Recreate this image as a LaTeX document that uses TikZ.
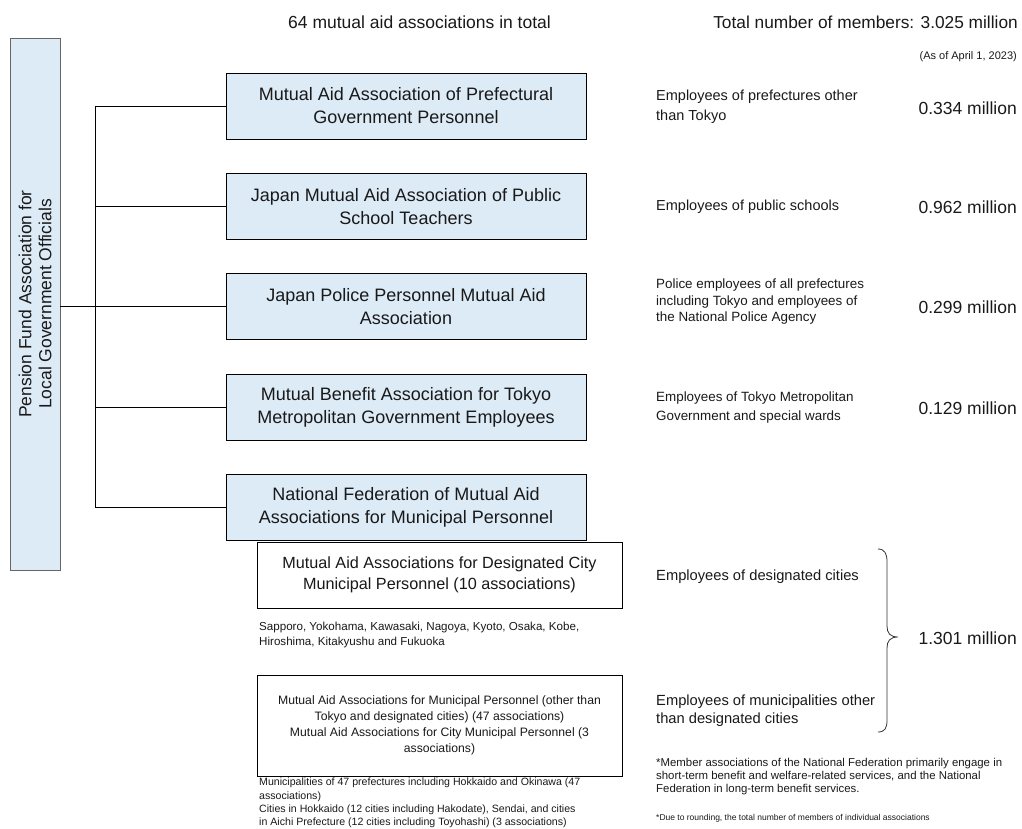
\documentclass[tikz,border=0pt]{standalone}
\usepackage{fontspec}
\setmainfont{Liberation Sans}
\definecolor{boxblue}{RGB}{221,235,247}
\definecolor{txt}{RGB}{25,25,25}
\begin{document}
\begin{tikzpicture}[x=1pt,y=-1pt,
  every node/.style={text=txt},
  bluebox/.style={draw=black, fill=boxblue, line width=0.9pt, inner sep=0pt, align=center,
    minimum width=360pt, minimum height=66pt, font=\fontsize{18}{23}\selectfont},
  whitebox/.style={draw=black, fill=white, line width=0.9pt, inner sep=0pt, align=center,
    minimum width=365pt},
  desc/.style={anchor=west, inner sep=0pt, align=left},
  num/.style={anchor=east, inner sep=0pt, font=\fontsize{17.5}{21}\selectfont},
  conn/.style={draw=black, line width=0.9pt}]
\useasboundingbox (0,0) rectangle (1022,829);

% header
\node[anchor=west, inner sep=0pt, font=\fontsize{17.5}{21}\selectfont] (h1) at (288,22) {64 mutual aid associations in total};
\node[anchor=east, inner sep=0pt, font=\fontsize{17.3}{21}\selectfont] (h2) at (1018,22) {Total number of members: 3.025 million};
\node[anchor=east, inner sep=0pt, font=\fontsize{11}{13}\selectfont] (h3) at (1017,57) {(As of April 1, 2023)};

% left box
\node[draw=black!60, fill=boxblue, line width=0.9pt, minimum width=50pt, minimum height=532pt, inner sep=0pt] (lbox) at (35,304) {};
\node[rotate=90, align=center, inner sep=0pt, font=\fontsize{17.5}{20}\selectfont] (ltext) at (lbox.center) {Pension Fund Association for\\Local Government Officials};

% blue boxes
\node[bluebox] (b1) at (406,106) {Mutual Aid Association of Prefectural\\Government Personnel};
\node[bluebox] (b2) at (406,206.5) {Japan Mutual Aid Association of Public\\School Teachers};
\node[bluebox] (b3) at (406,306.5) {Japan Police Personnel Mutual Aid\\Association};
\node[bluebox] (b4) at (406,407.5) {Mutual Benefit Association for Tokyo\\Metropolitan Government Employees};
\node[bluebox] (b5) at (406,507.5) {National Federation of Mutual Aid\\Associations for Municipal Personnel};

% connectors
\coordinate (j) at (95,306.5);
\coordinate (jt) at (95,106);
\coordinate (jb) at (95,507.5);
\draw[conn] (lbox.east |- j) -- (j);
\draw[conn] (jt) -- (jb);
\draw[conn] (jt) -- (b1.west);
\draw[conn] (95,206.5) coordinate (j2) -- (b2.west);
\draw[conn] (j) -- (b3.west);
\draw[conn] (95,407.5) coordinate (j4) -- (b4.west);
\draw[conn] (jb) -- (b5.west);

% sub boxes
\node[whitebox, minimum height=66pt, font=\fontsize{16.2}{21}\selectfont] (s1) at (439.5,575) {Mutual Aid Associations for Designated City\\Municipal Personnel (10 associations)};
\node[whitebox, minimum height=101pt, font=\fontsize{12.2}{16}\selectfont] (s2) at (439.5,725.5) {Mutual Aid Associations for Municipal Personnel (other than\\Tokyo and designated cities) (47 associations)\\Mutual Aid Associations for City Municipal Personnel (3\\associations)};

\node[desc, font=\fontsize{11.6}{15}\selectfont] (sapp) at (259,634.5) {Sapporo, Yokohama, Kawasaki, Nagoya, Kyoto, Osaka, Kobe,\\Hiroshima, Kitakyushu and Fukuoka};
\node[desc, font=\fontsize{10.6}{13.4}\selectfont] (muni) at (259,803) {Municipalities of 47 prefectures including Hokkaido and Okinawa (47\\associations)\\Cities in Hokkaido (12 cities including Hakodate), Sendai, and cities\\in Aichi Prefecture (12 cities including Toyohashi) (3 associations)};

% right descriptions
\node[desc, font=\fontsize{14.5}{20}\selectfont] (d1) at (656,107) {Employees of prefectures other\\than Tokyo};
\node[desc, font=\fontsize{14.5}{20}\selectfont] (d2) at (656,207) {Employees of public schools};
\node[desc, font=\fontsize{13.4}{16.5}\selectfont] (d3) at (656,302) {Police employees of all prefectures\\including Tokyo and employees of\\the National Police Agency};
\node[desc, font=\fontsize{13.4}{18.5}\selectfont] (d4) at (656,407.5) {Employees of Tokyo Metropolitan\\Government and special wards};
\node[desc, font=\fontsize{14.7}{18}\selectfont] (d5) at (656,577) {Employees of designated cities};
\node[desc, font=\fontsize{14.7}{18}\selectfont] (d6) at (656,711) {Employees of municipalities other\\than designated cities};

% numbers
\node[num] (n1) at (1017,108) {0.334 million};
\node[num] (n2) at (1017,207) {0.962 million};
\node[num] (n3) at (1017,307) {0.299 million};
\node[num] (n4) at (1017,408) {0.129 million};
\node[num] (n5) at (1017,638) {1.301 million};

% brace
\draw[black!80, line width=0.8pt] (878,549) .. controls (885,549) and (887,554) .. (887,562) -- (887,626) .. controls (887,633) and (890,637) .. (898,637)
  .. controls (890,637) and (887,641) .. (887,648) -- (887,720) .. controls (887,728) and (885,732) .. (878,732);

% notes
\node[desc, font=\fontsize{11.4}{13}\selectfont] (note1) at (656,777) {*Member associations of the National Federation primarily engage in\\short-term benefit and welfare-related services, and the National\\Federation in long-term benefit services.};
\node[desc, font=\fontsize{8.5}{10}\selectfont] (note2) at (656,818) {*Due to rounding, the total number of members of individual associations};
\end{tikzpicture}
\end{document}
